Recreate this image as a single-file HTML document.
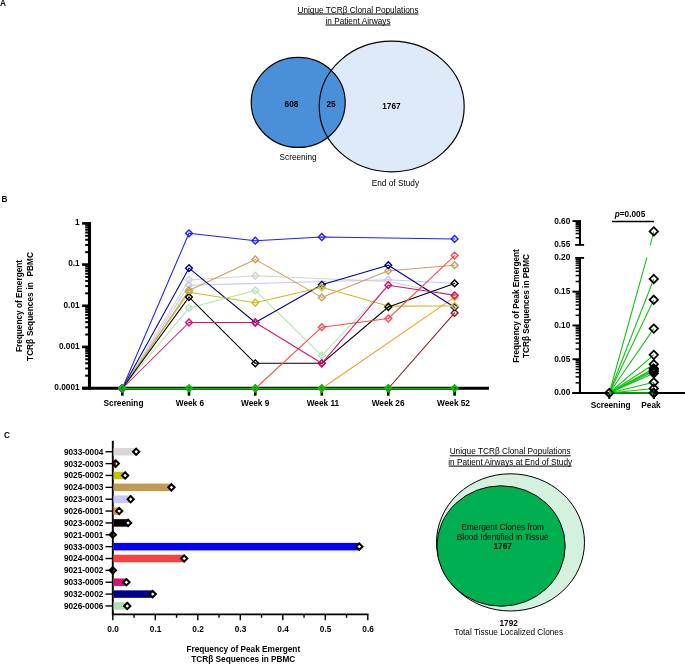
<!DOCTYPE html><html><head><meta charset="utf-8"><title>Figure</title><style>html,body{margin:0;padding:0;background:#fff}svg{display:block}</style></head><body><svg width="685" height="664" viewBox="0 0 685 664" font-family="'Liberation Sans', Arial, sans-serif" fill="#000">
<rect width="685" height="664" fill="#fff"/>
<text x="0.00" y="5.90" text-anchor="start" font-size="8.25" font-weight="bold" >A</text>
<text x="1.40" y="202.20" text-anchor="start" font-size="8.25" font-weight="bold" >B</text>
<text x="4.00" y="438.00" text-anchor="start" font-size="8.25" font-weight="bold" >C</text>
<text x="358.00" y="12.50" text-anchor="middle" font-size="8.25" >Unique TCRβ Clonal Populations</text>
<line x1="297.50" x2="418.50" y1="14.00" y2="14.00" stroke="#000" stroke-width="1.0"/>
<text x="358.00" y="23.50" text-anchor="middle" font-size="8.25" >in Patient Airways</text>
<line x1="325.50" x2="390.50" y1="25.00" y2="25.00" stroke="#000" stroke-width="1.0"/>
<ellipse cx="391.7" cy="106.5" rx="72.5" ry="65.3" fill="#dfeaf8"/>
<ellipse cx="298.2" cy="102.4" rx="47" ry="45" fill="#4a90d9"/>
<ellipse cx="391.7" cy="106.5" rx="72.5" ry="65.3" fill="none" stroke="#000" stroke-width="1.2"/>
<ellipse cx="298.2" cy="102.4" rx="47" ry="45" fill="none" stroke="#000" stroke-width="1.2"/>
<text x="291.50" y="106.80" text-anchor="middle" font-size="8.25" font-weight="bold" >608</text>
<text x="331.00" y="106.80" text-anchor="middle" font-size="8.25" font-weight="bold" >25</text>
<text x="391.40" y="108.80" text-anchor="middle" font-size="8.25" font-weight="bold" >1767</text>
<text x="298.10" y="159.50" text-anchor="middle" font-size="8.25" >Screening</text>
<text x="395.40" y="186.00" text-anchor="middle" font-size="8.25" >End of Study</text>
<line x1="89.5" x2="89.5" y1="222.1" y2="389.6" stroke="#000" stroke-width="3.1"/>
<line x1="82.1" x2="489" y1="388.3" y2="388.3" stroke="#000" stroke-width="3.0"/>
<line x1="82.1" x2="89.5" y1="388.10" y2="388.10" stroke="#000" stroke-width="2.6"/>
<line x1="85.2" x2="89.5" y1="375.70" y2="375.70" stroke="#000" stroke-width="2.0"/>
<line x1="85.2" x2="89.5" y1="368.45" y2="368.45" stroke="#000" stroke-width="2.0"/>
<line x1="85.2" x2="89.5" y1="363.31" y2="363.31" stroke="#000" stroke-width="2.0"/>
<line x1="85.2" x2="89.5" y1="359.32" y2="359.32" stroke="#000" stroke-width="2.0"/>
<line x1="85.2" x2="89.5" y1="356.06" y2="356.06" stroke="#000" stroke-width="2.0"/>
<line x1="85.2" x2="89.5" y1="353.30" y2="353.30" stroke="#000" stroke-width="2.0"/>
<line x1="85.2" x2="89.5" y1="350.91" y2="350.91" stroke="#000" stroke-width="2.0"/>
<line x1="85.2" x2="89.5" y1="348.80" y2="348.80" stroke="#000" stroke-width="2.0"/>
<line x1="82.1" x2="89.5" y1="346.92" y2="346.92" stroke="#000" stroke-width="2.6"/>
<line x1="85.2" x2="89.5" y1="334.52" y2="334.52" stroke="#000" stroke-width="2.0"/>
<line x1="85.2" x2="89.5" y1="327.27" y2="327.27" stroke="#000" stroke-width="2.0"/>
<line x1="85.2" x2="89.5" y1="322.13" y2="322.13" stroke="#000" stroke-width="2.0"/>
<line x1="85.2" x2="89.5" y1="318.14" y2="318.14" stroke="#000" stroke-width="2.0"/>
<line x1="85.2" x2="89.5" y1="314.88" y2="314.88" stroke="#000" stroke-width="2.0"/>
<line x1="85.2" x2="89.5" y1="312.12" y2="312.12" stroke="#000" stroke-width="2.0"/>
<line x1="85.2" x2="89.5" y1="309.73" y2="309.73" stroke="#000" stroke-width="2.0"/>
<line x1="85.2" x2="89.5" y1="307.62" y2="307.62" stroke="#000" stroke-width="2.0"/>
<line x1="82.1" x2="89.5" y1="305.74" y2="305.74" stroke="#000" stroke-width="2.6"/>
<line x1="85.2" x2="89.5" y1="293.34" y2="293.34" stroke="#000" stroke-width="2.0"/>
<line x1="85.2" x2="89.5" y1="286.09" y2="286.09" stroke="#000" stroke-width="2.0"/>
<line x1="85.2" x2="89.5" y1="280.95" y2="280.95" stroke="#000" stroke-width="2.0"/>
<line x1="85.2" x2="89.5" y1="276.96" y2="276.96" stroke="#000" stroke-width="2.0"/>
<line x1="85.2" x2="89.5" y1="273.70" y2="273.70" stroke="#000" stroke-width="2.0"/>
<line x1="85.2" x2="89.5" y1="270.94" y2="270.94" stroke="#000" stroke-width="2.0"/>
<line x1="85.2" x2="89.5" y1="268.55" y2="268.55" stroke="#000" stroke-width="2.0"/>
<line x1="85.2" x2="89.5" y1="266.44" y2="266.44" stroke="#000" stroke-width="2.0"/>
<line x1="82.1" x2="89.5" y1="264.56" y2="264.56" stroke="#000" stroke-width="2.6"/>
<line x1="85.2" x2="89.5" y1="252.16" y2="252.16" stroke="#000" stroke-width="2.0"/>
<line x1="85.2" x2="89.5" y1="244.91" y2="244.91" stroke="#000" stroke-width="2.0"/>
<line x1="85.2" x2="89.5" y1="239.77" y2="239.77" stroke="#000" stroke-width="2.0"/>
<line x1="85.2" x2="89.5" y1="235.78" y2="235.78" stroke="#000" stroke-width="2.0"/>
<line x1="85.2" x2="89.5" y1="232.52" y2="232.52" stroke="#000" stroke-width="2.0"/>
<line x1="85.2" x2="89.5" y1="229.76" y2="229.76" stroke="#000" stroke-width="2.0"/>
<line x1="85.2" x2="89.5" y1="227.37" y2="227.37" stroke="#000" stroke-width="2.0"/>
<line x1="85.2" x2="89.5" y1="225.26" y2="225.26" stroke="#000" stroke-width="2.0"/>
<line x1="82.1" x2="89.5" y1="223.38" y2="223.38" stroke="#000" stroke-width="2.6"/>
<text x="79.60" y="390.00" text-anchor="end" font-size="8.25" font-weight="bold" >0.0001</text>
<text x="79.60" y="348.82" text-anchor="end" font-size="8.25" font-weight="bold" >0.001</text>
<text x="79.60" y="307.64" text-anchor="end" font-size="8.25" font-weight="bold" >0.01</text>
<text x="79.60" y="266.46" text-anchor="end" font-size="8.25" font-weight="bold" >0.1</text>
<text x="79.60" y="225.28" text-anchor="end" font-size="8.25" font-weight="bold" >1</text>
<line x1="122.3" x2="122.3" y1="388.1" y2="395.70000000000005" stroke="#000" stroke-width="2.6"/>
<text x="123.50" y="405.80" text-anchor="middle" font-size="8.25" font-weight="bold" >Screening</text>
<line x1="189.0" x2="189.0" y1="388.1" y2="395.70000000000005" stroke="#000" stroke-width="2.6"/>
<text x="189.90" y="405.80" text-anchor="middle" font-size="8.25" font-weight="bold" >Week 6</text>
<line x1="255.3" x2="255.3" y1="388.1" y2="395.70000000000005" stroke="#000" stroke-width="2.6"/>
<text x="255.20" y="405.80" text-anchor="middle" font-size="8.25" font-weight="bold" >Week 9</text>
<line x1="321.8" x2="321.8" y1="388.1" y2="395.70000000000005" stroke="#000" stroke-width="2.6"/>
<text x="322.90" y="405.80" text-anchor="middle" font-size="8.25" font-weight="bold" >Week 11</text>
<line x1="388.3" x2="388.3" y1="388.1" y2="395.70000000000005" stroke="#000" stroke-width="2.6"/>
<text x="388.10" y="405.80" text-anchor="middle" font-size="8.25" font-weight="bold" >Week 26</text>
<line x1="454.6" x2="454.6" y1="388.1" y2="395.70000000000005" stroke="#000" stroke-width="2.6"/>
<text x="453.50" y="405.80" text-anchor="middle" font-size="8.25" font-weight="bold" >Week 52</text>
<text transform="translate(22,306.0) rotate(-90)" text-anchor="middle" font-size="8.25" font-weight="bold">Frequency of Emergent</text>
<text transform="translate(33.3,306.5) rotate(-90)" word-spacing="0.6" text-anchor="middle" font-size="8.25" font-weight="bold" xml:space="preserve">TCRβ Sequences in  PBMC</text>
<path d="M122.30 388.50 L189.00 307.90 L255.30 290.40 L321.80 355.60 L388.30 285.00" fill="none" stroke="#b4e3b4" stroke-width="1.05" stroke-linejoin="round"/>
<path d="M122.30 385.10L125.70 388.50L122.30 391.90L118.90 388.50Z" fill="none" stroke="#b4e3b4" stroke-width="1.4"/>
<circle cx="122.30" cy="388.50" r="0.7" fill="#b4e3b4" opacity="0.75"/>
<path d="M189.00 304.50L192.40 307.90L189.00 311.30L185.60 307.90Z" fill="none" stroke="#b4e3b4" stroke-width="1.4"/>
<circle cx="189.00" cy="307.90" r="0.7" fill="#b4e3b4" opacity="0.75"/>
<path d="M255.30 287.00L258.70 290.40L255.30 293.80L251.90 290.40Z" fill="none" stroke="#b4e3b4" stroke-width="1.4"/>
<circle cx="255.30" cy="290.40" r="0.7" fill="#b4e3b4" opacity="0.75"/>
<path d="M321.80 352.20L325.20 355.60L321.80 359.00L318.40 355.60Z" fill="none" stroke="#b4e3b4" stroke-width="1.4"/>
<circle cx="321.80" cy="355.60" r="0.7" fill="#b4e3b4" opacity="0.75"/>
<path d="M122.30 388.50 L189.00 279.90 L255.30 275.70 L388.30 281.50 L454.60 295.30" fill="none" stroke="#d2d2d2" stroke-width="1.05" stroke-linejoin="round"/>
<path d="M122.30 385.10L125.70 388.50L122.30 391.90L118.90 388.50Z" fill="none" stroke="#d2d2d2" stroke-width="1.4"/>
<circle cx="122.30" cy="388.50" r="0.7" fill="#d2d2d2" opacity="0.75"/>
<path d="M189.00 276.50L192.40 279.90L189.00 283.30L185.60 279.90Z" fill="none" stroke="#d2d2d2" stroke-width="1.4"/>
<circle cx="189.00" cy="279.90" r="0.7" fill="#d2d2d2" opacity="0.75"/>
<path d="M255.30 272.30L258.70 275.70L255.30 279.10L251.90 275.70Z" fill="none" stroke="#d2d2d2" stroke-width="1.4"/>
<circle cx="255.30" cy="275.70" r="0.7" fill="#d2d2d2" opacity="0.75"/>
<path d="M454.60 291.90L458.00 295.30L454.60 298.70L451.20 295.30Z" fill="none" stroke="#d2d2d2" stroke-width="1.4"/>
<circle cx="454.60" cy="295.30" r="0.7" fill="#d2d2d2" opacity="0.75"/>
<path d="M122.30 388.50 L189.00 285.20 L388.30 279.80 L454.60 283.20" fill="none" stroke="#c6c6fb" stroke-width="1.05" stroke-linejoin="round"/>
<path d="M122.30 385.10L125.70 388.50L122.30 391.90L118.90 388.50Z" fill="none" stroke="#c6c6fb" stroke-width="1.4"/>
<circle cx="122.30" cy="388.50" r="0.7" fill="#c6c6fb" opacity="0.75"/>
<path d="M189.00 281.80L192.40 285.20L189.00 288.60L185.60 285.20Z" fill="none" stroke="#c6c6fb" stroke-width="1.4"/>
<circle cx="189.00" cy="285.20" r="0.7" fill="#c6c6fb" opacity="0.75"/>
<path d="M388.30 276.40L391.70 279.80L388.30 283.20L384.90 279.80Z" fill="none" stroke="#c6c6fb" stroke-width="1.4"/>
<circle cx="388.30" cy="279.80" r="0.7" fill="#c6c6fb" opacity="0.75"/>
<path d="M454.60 279.80L458.00 283.20L454.60 286.60L451.20 283.20Z" fill="none" stroke="#c6c6fb" stroke-width="1.4"/>
<circle cx="454.60" cy="283.20" r="0.7" fill="#c6c6fb" opacity="0.75"/>
<path d="M122.30 388.50 L321.80 388.50 L454.60 297.10" fill="none" stroke="#ff9a1f" stroke-width="1.05" stroke-linejoin="round"/>
<path d="M122.30 385.10L125.70 388.50L122.30 391.90L118.90 388.50Z" fill="none" stroke="#ff9a1f" stroke-width="1.4"/>
<circle cx="122.30" cy="388.50" r="0.7" fill="#ff9a1f" opacity="0.75"/>
<path d="M321.80 385.10L325.20 388.50L321.80 391.90L318.40 388.50Z" fill="none" stroke="#ff9a1f" stroke-width="1.4"/>
<circle cx="321.80" cy="388.50" r="0.7" fill="#ff9a1f" opacity="0.75"/>
<path d="M454.60 293.70L458.00 297.10L454.60 300.50L451.20 297.10Z" fill="none" stroke="#ff9a1f" stroke-width="1.4"/>
<circle cx="454.60" cy="297.10" r="0.7" fill="#ff9a1f" opacity="0.75"/>
<path d="M122.30 388.50 L388.30 388.50 L454.60 312.90" fill="none" stroke="#8b1a1a" stroke-width="1.05" stroke-linejoin="round"/>
<path d="M122.30 385.10L125.70 388.50L122.30 391.90L118.90 388.50Z" fill="none" stroke="#8b1a1a" stroke-width="1.4"/>
<circle cx="122.30" cy="388.50" r="0.7" fill="#8b1a1a" opacity="0.75"/>
<path d="M388.30 385.10L391.70 388.50L388.30 391.90L384.90 388.50Z" fill="none" stroke="#8b1a1a" stroke-width="1.4"/>
<circle cx="388.30" cy="388.50" r="0.7" fill="#8b1a1a" opacity="0.75"/>
<path d="M454.60 309.50L458.00 312.90L454.60 316.30L451.20 312.90Z" fill="none" stroke="#8b1a1a" stroke-width="1.4"/>
<circle cx="454.60" cy="312.90" r="0.7" fill="#8b1a1a" opacity="0.75"/>
<path d="M122.30 388.50 L189.00 290.40 L255.30 259.40 L321.80 297.40 L388.30 270.80 L454.60 265.20" fill="none" stroke="#c9a05c" stroke-width="1.05" stroke-linejoin="round"/>
<path d="M122.30 385.10L125.70 388.50L122.30 391.90L118.90 388.50Z" fill="none" stroke="#c9a05c" stroke-width="1.4"/>
<circle cx="122.30" cy="388.50" r="0.7" fill="#c9a05c" opacity="0.75"/>
<path d="M189.00 287.00L192.40 290.40L189.00 293.80L185.60 290.40Z" fill="none" stroke="#c9a05c" stroke-width="1.4"/>
<circle cx="189.00" cy="290.40" r="0.7" fill="#c9a05c" opacity="0.75"/>
<path d="M255.30 256.00L258.70 259.40L255.30 262.80L251.90 259.40Z" fill="none" stroke="#c9a05c" stroke-width="1.4"/>
<circle cx="255.30" cy="259.40" r="0.7" fill="#c9a05c" opacity="0.75"/>
<path d="M321.80 294.00L325.20 297.40L321.80 300.80L318.40 297.40Z" fill="none" stroke="#c9a05c" stroke-width="1.4"/>
<circle cx="321.80" cy="297.40" r="0.7" fill="#c9a05c" opacity="0.75"/>
<path d="M388.30 267.40L391.70 270.80L388.30 274.20L384.90 270.80Z" fill="none" stroke="#c9a05c" stroke-width="1.4"/>
<circle cx="388.30" cy="270.80" r="0.7" fill="#c9a05c" opacity="0.75"/>
<path d="M454.60 261.80L458.00 265.20L454.60 268.60L451.20 265.20Z" fill="none" stroke="#c9a05c" stroke-width="1.4"/>
<circle cx="454.60" cy="265.20" r="0.7" fill="#c9a05c" opacity="0.75"/>
<path d="M122.30 388.50 L189.00 268.20 L255.30 322.50 L321.80 284.70 L388.30 265.20 L454.60 307.20" fill="none" stroke="#00008b" stroke-width="1.05" stroke-linejoin="round"/>
<path d="M122.30 385.10L125.70 388.50L122.30 391.90L118.90 388.50Z" fill="none" stroke="#00008b" stroke-width="1.4"/>
<circle cx="122.30" cy="388.50" r="0.7" fill="#00008b" opacity="0.75"/>
<path d="M189.00 264.80L192.40 268.20L189.00 271.60L185.60 268.20Z" fill="none" stroke="#00008b" stroke-width="1.4"/>
<circle cx="189.00" cy="268.20" r="0.7" fill="#00008b" opacity="0.75"/>
<path d="M255.30 319.10L258.70 322.50L255.30 325.90L251.90 322.50Z" fill="none" stroke="#00008b" stroke-width="1.4"/>
<circle cx="255.30" cy="322.50" r="0.7" fill="#00008b" opacity="0.75"/>
<path d="M321.80 281.30L325.20 284.70L321.80 288.10L318.40 284.70Z" fill="none" stroke="#00008b" stroke-width="1.4"/>
<circle cx="321.80" cy="284.70" r="0.7" fill="#00008b" opacity="0.75"/>
<path d="M388.30 261.80L391.70 265.20L388.30 268.60L384.90 265.20Z" fill="none" stroke="#00008b" stroke-width="1.4"/>
<circle cx="388.30" cy="265.20" r="0.7" fill="#00008b" opacity="0.75"/>
<path d="M454.60 303.80L458.00 307.20L454.60 310.60L451.20 307.20Z" fill="none" stroke="#00008b" stroke-width="1.4"/>
<circle cx="454.60" cy="307.20" r="0.7" fill="#00008b" opacity="0.75"/>
<path d="M122.30 388.50 L189.00 292.20 L255.30 302.70 L321.80 287.30 L388.30 306.10 L454.60 305.95" fill="none" stroke="#c8be1e" stroke-width="1.05" stroke-linejoin="round"/>
<path d="M122.30 385.10L125.70 388.50L122.30 391.90L118.90 388.50Z" fill="none" stroke="#c8be1e" stroke-width="1.4"/>
<circle cx="122.30" cy="388.50" r="0.7" fill="#c8be1e" opacity="0.75"/>
<path d="M189.00 288.80L192.40 292.20L189.00 295.60L185.60 292.20Z" fill="none" stroke="#c8be1e" stroke-width="1.4"/>
<circle cx="189.00" cy="292.20" r="0.7" fill="#c8be1e" opacity="0.75"/>
<path d="M255.30 299.30L258.70 302.70L255.30 306.10L251.90 302.70Z" fill="none" stroke="#c8be1e" stroke-width="1.4"/>
<circle cx="255.30" cy="302.70" r="0.7" fill="#c8be1e" opacity="0.75"/>
<path d="M321.80 283.90L325.20 287.30L321.80 290.70L318.40 287.30Z" fill="none" stroke="#c8be1e" stroke-width="1.4"/>
<circle cx="321.80" cy="287.30" r="0.7" fill="#c8be1e" opacity="0.75"/>
<path d="M388.30 302.70L391.70 306.10L388.30 309.50L384.90 306.10Z" fill="none" stroke="#c8be1e" stroke-width="1.4"/>
<circle cx="388.30" cy="306.10" r="0.7" fill="#c8be1e" opacity="0.75"/>
<path d="M454.60 302.55L458.00 305.95L454.60 309.35L451.20 305.95Z" fill="none" stroke="#c8be1e" stroke-width="1.4"/>
<circle cx="454.60" cy="305.95" r="0.7" fill="#c8be1e" opacity="0.75"/>
<path d="M122.30 388.50 L189.00 297.10 L255.30 363.30 L321.80 363.30 L388.30 307.00 L454.60 283.40" fill="none" stroke="#000000" stroke-width="1.05" stroke-linejoin="round"/>
<path d="M122.30 385.10L125.70 388.50L122.30 391.90L118.90 388.50Z" fill="none" stroke="#000000" stroke-width="1.4"/>
<circle cx="122.30" cy="388.50" r="0.7" fill="#000000" opacity="0.75"/>
<path d="M189.00 293.70L192.40 297.10L189.00 300.50L185.60 297.10Z" fill="none" stroke="#000000" stroke-width="1.4"/>
<circle cx="189.00" cy="297.10" r="0.7" fill="#000000" opacity="0.75"/>
<path d="M255.30 359.90L258.70 363.30L255.30 366.70L251.90 363.30Z" fill="none" stroke="#000000" stroke-width="1.4"/>
<circle cx="255.30" cy="363.30" r="0.7" fill="#000000" opacity="0.75"/>
<path d="M321.80 359.90L325.20 363.30L321.80 366.70L318.40 363.30Z" fill="none" stroke="#000000" stroke-width="1.4"/>
<circle cx="321.80" cy="363.30" r="0.7" fill="#000000" opacity="0.75"/>
<path d="M388.30 303.60L391.70 307.00L388.30 310.40L384.90 307.00Z" fill="none" stroke="#000000" stroke-width="1.4"/>
<circle cx="388.30" cy="307.00" r="0.7" fill="#000000" opacity="0.75"/>
<path d="M454.60 280.00L458.00 283.40L454.60 286.80L451.20 283.40Z" fill="none" stroke="#000000" stroke-width="1.4"/>
<circle cx="454.60" cy="283.40" r="0.7" fill="#000000" opacity="0.75"/>
<path d="M122.30 388.50 L255.30 388.50 L321.80 327.20 L388.30 318.50 L454.60 255.60" fill="none" stroke="#ff4b4b" stroke-width="1.05" stroke-linejoin="round"/>
<path d="M122.30 385.10L125.70 388.50L122.30 391.90L118.90 388.50Z" fill="none" stroke="#ff4b4b" stroke-width="1.4"/>
<circle cx="122.30" cy="388.50" r="0.7" fill="#ff4b4b" opacity="0.75"/>
<path d="M255.30 385.10L258.70 388.50L255.30 391.90L251.90 388.50Z" fill="none" stroke="#ff4b4b" stroke-width="1.4"/>
<circle cx="255.30" cy="388.50" r="0.7" fill="#ff4b4b" opacity="0.75"/>
<path d="M321.80 323.80L325.20 327.20L321.80 330.60L318.40 327.20Z" fill="none" stroke="#ff4b4b" stroke-width="1.4"/>
<circle cx="321.80" cy="327.20" r="0.7" fill="#ff4b4b" opacity="0.75"/>
<path d="M388.30 315.10L391.70 318.50L388.30 321.90L384.90 318.50Z" fill="none" stroke="#ff4b4b" stroke-width="1.4"/>
<circle cx="388.30" cy="318.50" r="0.7" fill="#ff4b4b" opacity="0.75"/>
<path d="M454.60 252.20L458.00 255.60L454.60 259.00L451.20 255.60Z" fill="none" stroke="#ff4b4b" stroke-width="1.4"/>
<circle cx="454.60" cy="255.60" r="0.7" fill="#ff4b4b" opacity="0.75"/>
<path d="M122.30 388.50 L189.00 322.50 L255.30 322.50 L321.80 363.30 L388.30 285.20 L454.60 295.30" fill="none" stroke="#d4146f" stroke-width="1.05" stroke-linejoin="round"/>
<path d="M122.30 385.10L125.70 388.50L122.30 391.90L118.90 388.50Z" fill="none" stroke="#d4146f" stroke-width="1.4"/>
<circle cx="122.30" cy="388.50" r="0.7" fill="#d4146f" opacity="0.75"/>
<path d="M189.00 319.10L192.40 322.50L189.00 325.90L185.60 322.50Z" fill="none" stroke="#d4146f" stroke-width="1.4"/>
<circle cx="189.00" cy="322.50" r="0.7" fill="#d4146f" opacity="0.75"/>
<path d="M255.30 319.10L258.70 322.50L255.30 325.90L251.90 322.50Z" fill="none" stroke="#d4146f" stroke-width="1.4"/>
<circle cx="255.30" cy="322.50" r="0.7" fill="#d4146f" opacity="0.75"/>
<path d="M321.80 359.90L325.20 363.30L321.80 366.70L318.40 363.30Z" fill="none" stroke="#d4146f" stroke-width="1.4"/>
<circle cx="321.80" cy="363.30" r="0.7" fill="#d4146f" opacity="0.75"/>
<path d="M388.30 281.80L391.70 285.20L388.30 288.60L384.90 285.20Z" fill="none" stroke="#d4146f" stroke-width="1.4"/>
<circle cx="388.30" cy="285.20" r="0.7" fill="#d4146f" opacity="0.75"/>
<path d="M454.60 291.90L458.00 295.30L454.60 298.70L451.20 295.30Z" fill="none" stroke="#d4146f" stroke-width="1.4"/>
<circle cx="454.60" cy="295.30" r="0.7" fill="#d4146f" opacity="0.75"/>
<path d="M122.30 388.50 L189.00 233.30 L255.30 240.70 L321.80 237.00 L388.30 238.00 L454.60 238.90" fill="none" stroke="#1f1fff" stroke-width="1.05" stroke-linejoin="round"/>
<path d="M122.30 385.10L125.70 388.50L122.30 391.90L118.90 388.50Z" fill="none" stroke="#1f1fff" stroke-width="1.4"/>
<circle cx="122.30" cy="388.50" r="0.7" fill="#1f1fff" opacity="0.75"/>
<path d="M189.00 229.90L192.40 233.30L189.00 236.70L185.60 233.30Z" fill="none" stroke="#1f1fff" stroke-width="1.4"/>
<circle cx="189.00" cy="233.30" r="0.7" fill="#1f1fff" opacity="0.75"/>
<path d="M255.30 237.30L258.70 240.70L255.30 244.10L251.90 240.70Z" fill="none" stroke="#1f1fff" stroke-width="1.4"/>
<circle cx="255.30" cy="240.70" r="0.7" fill="#1f1fff" opacity="0.75"/>
<path d="M321.80 233.60L325.20 237.00L321.80 240.40L318.40 237.00Z" fill="none" stroke="#1f1fff" stroke-width="1.4"/>
<circle cx="321.80" cy="237.00" r="0.7" fill="#1f1fff" opacity="0.75"/>
<path d="M454.60 235.50L458.00 238.90L454.60 242.30L451.20 238.90Z" fill="none" stroke="#1f1fff" stroke-width="1.4"/>
<circle cx="454.60" cy="238.90" r="0.7" fill="#1f1fff" opacity="0.75"/>
<path d="M122.30 388.50 L189.00 388.50 L255.30 388.50 L321.80 388.50 L388.30 388.50 L454.60 388.50" fill="none" stroke="#00c000" stroke-width="1.3" stroke-linejoin="round"/>
<path d="M122.30 385.20L125.40 388.30L122.30 391.40L119.20 388.30Z" fill="none" stroke="#00c000" stroke-width="1.9"/>
<circle cx="122.30" cy="388.50" r="0.7" fill="#00c000" opacity="0.75"/>
<path d="M189.00 385.20L192.10 388.30L189.00 391.40L185.90 388.30Z" fill="none" stroke="#00c000" stroke-width="1.9"/>
<circle cx="189.00" cy="388.50" r="0.7" fill="#00c000" opacity="0.75"/>
<path d="M255.30 385.20L258.40 388.30L255.30 391.40L252.20 388.30Z" fill="none" stroke="#00c000" stroke-width="1.9"/>
<circle cx="255.30" cy="388.50" r="0.7" fill="#00c000" opacity="0.75"/>
<path d="M321.80 385.20L324.90 388.30L321.80 391.40L318.70 388.30Z" fill="none" stroke="#00c000" stroke-width="1.9"/>
<circle cx="321.80" cy="388.50" r="0.7" fill="#00c000" opacity="0.75"/>
<path d="M388.30 385.20L391.40 388.30L388.30 391.40L385.20 388.30Z" fill="none" stroke="#00c000" stroke-width="1.9"/>
<circle cx="388.30" cy="388.50" r="0.7" fill="#00c000" opacity="0.75"/>
<path d="M454.60 385.20L457.70 388.30L454.60 391.40L451.50 388.30Z" fill="none" stroke="#00c000" stroke-width="1.9"/>
<circle cx="454.60" cy="388.50" r="0.7" fill="#00c000" opacity="0.75"/>
<path d="M189.00 287.00L192.40 290.40L189.00 293.80L185.60 290.40Z" fill="none" stroke="#c9a05c" stroke-width="1.4"/>
<line x1="579.95" x2="579.95" y1="220.1" y2="245.3" stroke="#000" stroke-width="2.1"/>
<line x1="579.95" x2="579.95" y1="257.4" y2="394.0" stroke="#000" stroke-width="2.1"/>
<line x1="572.4" x2="685" y1="393.0" y2="393.0" stroke="#000" stroke-width="2.1"/>
<line x1="575.1" x2="584.1" y1="244.9" y2="244.9" stroke="#000" stroke-width="1.8"/>
<line x1="575.1" x2="584.1" y1="257.9" y2="257.9" stroke="#000" stroke-width="1.8"/>
<line x1="572.4" x2="579.95" y1="393.00" y2="393.00" stroke="#000" stroke-width="1.9"/>
<text x="570.30" y="395.40" text-anchor="end" font-size="8.25" font-weight="bold" >0.00</text>
<line x1="575.6" x2="579.95" y1="382.83" y2="382.83" stroke="#000" stroke-width="1.5"/>
<line x1="575.6" x2="579.95" y1="376.88" y2="376.88" stroke="#000" stroke-width="1.5"/>
<line x1="575.6" x2="579.95" y1="372.66" y2="372.66" stroke="#000" stroke-width="1.5"/>
<line x1="575.6" x2="579.95" y1="369.39" y2="369.39" stroke="#000" stroke-width="1.5"/>
<line x1="575.6" x2="579.95" y1="366.71" y2="366.71" stroke="#000" stroke-width="1.5"/>
<line x1="575.6" x2="579.95" y1="364.45" y2="364.45" stroke="#000" stroke-width="1.5"/>
<line x1="575.6" x2="579.95" y1="362.49" y2="362.49" stroke="#000" stroke-width="1.5"/>
<line x1="575.6" x2="579.95" y1="360.77" y2="360.77" stroke="#000" stroke-width="1.5"/>
<line x1="572.4" x2="579.95" y1="359.22" y2="359.22" stroke="#000" stroke-width="1.9"/>
<text x="570.30" y="361.62" text-anchor="end" font-size="8.25" font-weight="bold" >0.05</text>
<line x1="575.6" x2="579.95" y1="349.05" y2="349.05" stroke="#000" stroke-width="1.5"/>
<line x1="575.6" x2="579.95" y1="343.10" y2="343.10" stroke="#000" stroke-width="1.5"/>
<line x1="575.6" x2="579.95" y1="338.88" y2="338.88" stroke="#000" stroke-width="1.5"/>
<line x1="575.6" x2="579.95" y1="335.61" y2="335.61" stroke="#000" stroke-width="1.5"/>
<line x1="575.6" x2="579.95" y1="332.93" y2="332.93" stroke="#000" stroke-width="1.5"/>
<line x1="575.6" x2="579.95" y1="330.67" y2="330.67" stroke="#000" stroke-width="1.5"/>
<line x1="575.6" x2="579.95" y1="328.71" y2="328.71" stroke="#000" stroke-width="1.5"/>
<line x1="575.6" x2="579.95" y1="326.99" y2="326.99" stroke="#000" stroke-width="1.5"/>
<line x1="572.4" x2="579.95" y1="325.44" y2="325.44" stroke="#000" stroke-width="1.9"/>
<text x="570.30" y="327.84" text-anchor="end" font-size="8.25" font-weight="bold" >0.10</text>
<line x1="575.6" x2="579.95" y1="315.27" y2="315.27" stroke="#000" stroke-width="1.5"/>
<line x1="575.6" x2="579.95" y1="309.32" y2="309.32" stroke="#000" stroke-width="1.5"/>
<line x1="575.6" x2="579.95" y1="305.10" y2="305.10" stroke="#000" stroke-width="1.5"/>
<line x1="575.6" x2="579.95" y1="301.83" y2="301.83" stroke="#000" stroke-width="1.5"/>
<line x1="575.6" x2="579.95" y1="299.15" y2="299.15" stroke="#000" stroke-width="1.5"/>
<line x1="575.6" x2="579.95" y1="296.89" y2="296.89" stroke="#000" stroke-width="1.5"/>
<line x1="575.6" x2="579.95" y1="294.93" y2="294.93" stroke="#000" stroke-width="1.5"/>
<line x1="575.6" x2="579.95" y1="293.21" y2="293.21" stroke="#000" stroke-width="1.5"/>
<line x1="572.4" x2="579.95" y1="291.66" y2="291.66" stroke="#000" stroke-width="1.9"/>
<text x="570.30" y="294.06" text-anchor="end" font-size="8.25" font-weight="bold" >0.15</text>
<line x1="575.6" x2="579.95" y1="281.49" y2="281.49" stroke="#000" stroke-width="1.5"/>
<line x1="575.6" x2="579.95" y1="275.54" y2="275.54" stroke="#000" stroke-width="1.5"/>
<line x1="575.6" x2="579.95" y1="271.32" y2="271.32" stroke="#000" stroke-width="1.5"/>
<line x1="575.6" x2="579.95" y1="268.05" y2="268.05" stroke="#000" stroke-width="1.5"/>
<line x1="575.6" x2="579.95" y1="265.37" y2="265.37" stroke="#000" stroke-width="1.5"/>
<line x1="575.6" x2="579.95" y1="263.11" y2="263.11" stroke="#000" stroke-width="1.5"/>
<line x1="575.6" x2="579.95" y1="261.15" y2="261.15" stroke="#000" stroke-width="1.5"/>
<line x1="575.6" x2="579.95" y1="259.43" y2="259.43" stroke="#000" stroke-width="1.5"/>
<text x="570.30" y="260.28" text-anchor="end" font-size="8.25" font-weight="bold" >0.20</text>
<text x="570.30" y="247.30" text-anchor="end" font-size="8.25" font-weight="bold" >0.55</text>
<line x1="572.4" x2="579.95" y1="221.10" y2="221.10" stroke="#000" stroke-width="1.9"/>
<text x="570.30" y="223.50" text-anchor="end" font-size="8.25" font-weight="bold" >0.60</text>
<line x1="575.6" x2="579.95" y1="237.74" y2="237.74" stroke="#000" stroke-width="1.5"/>
<line x1="575.6" x2="579.95" y1="233.54" y2="233.54" stroke="#000" stroke-width="1.5"/>
<line x1="575.6" x2="579.95" y1="230.57" y2="230.57" stroke="#000" stroke-width="1.5"/>
<line x1="575.6" x2="579.95" y1="228.26" y2="228.26" stroke="#000" stroke-width="1.5"/>
<line x1="575.6" x2="579.95" y1="226.38" y2="226.38" stroke="#000" stroke-width="1.5"/>
<line x1="575.6" x2="579.95" y1="224.79" y2="224.79" stroke="#000" stroke-width="1.5"/>
<line x1="575.6" x2="579.95" y1="223.41" y2="223.41" stroke="#000" stroke-width="1.5"/>
<line x1="575.6" x2="579.95" y1="222.19" y2="222.19" stroke="#000" stroke-width="1.5"/>
<line x1="609.3" x2="609.3" y1="393.0" y2="399.0" stroke="#000" stroke-width="1.9"/>
<text x="610.60" y="407.80" text-anchor="middle" font-size="8.25" font-weight="bold" >Screening</text>
<line x1="653.8" x2="653.8" y1="393.0" y2="399.0" stroke="#000" stroke-width="1.9"/>
<text x="651.00" y="408.40" text-anchor="middle" font-size="8.25" font-weight="bold" >Peak</text>
<line x1="609.3" y1="393.0" x2="646.9" y2="257.4" stroke="#10c010" stroke-width="1.05"/>
<line x1="650.2" y1="245.3" x2="653.8" y2="231.4" stroke="#10c010" stroke-width="1.05"/>
<line x1="609.3" y1="393.0" x2="653.8" y2="278.96" stroke="#10c010" stroke-width="1.05"/>
<line x1="609.3" y1="393.0" x2="653.8" y2="299.77" stroke="#10c010" stroke-width="1.05"/>
<line x1="609.3" y1="393.0" x2="653.8" y2="328.62" stroke="#10c010" stroke-width="1.05"/>
<line x1="609.3" y1="393.0" x2="653.8" y2="354.83" stroke="#10c010" stroke-width="1.05"/>
<line x1="609.3" y1="393.0" x2="653.8" y2="364.22" stroke="#10c010" stroke-width="1.05"/>
<line x1="609.3" y1="393.0" x2="653.8" y2="368.54" stroke="#10c010" stroke-width="1.05"/>
<line x1="609.3" y1="393.0" x2="653.8" y2="370.03" stroke="#10c010" stroke-width="1.05"/>
<line x1="609.3" y1="393.0" x2="653.8" y2="371.38" stroke="#10c010" stroke-width="1.05"/>
<line x1="609.3" y1="393.0" x2="653.8" y2="373.20" stroke="#10c010" stroke-width="1.05"/>
<line x1="609.3" y1="393.0" x2="653.8" y2="382.33" stroke="#10c010" stroke-width="1.05"/>
<line x1="609.3" y1="393.0" x2="653.8" y2="388.41" stroke="#10c010" stroke-width="1.05"/>
<line x1="609.3" y1="393.0" x2="653.8" y2="393.00" stroke="#10c010" stroke-width="1.05"/>
<line x1="609.3" y1="393.0" x2="653.8" y2="393.00" stroke="#10c010" stroke-width="1.05"/>
<path d="M653.80 227.20L658.00 231.40L653.80 235.60L649.60 231.40Z" fill="none" stroke="#000" stroke-width="1.75"/>
<path d="M653.80 274.76L658.00 278.96L653.80 283.16L649.60 278.96Z" fill="none" stroke="#000" stroke-width="1.75"/>
<path d="M653.80 295.57L658.00 299.77L653.80 303.97L649.60 299.77Z" fill="none" stroke="#000" stroke-width="1.75"/>
<path d="M653.80 324.42L658.00 328.62L653.80 332.82L649.60 328.62Z" fill="none" stroke="#000" stroke-width="1.75"/>
<path d="M653.80 350.63L658.00 354.83L653.80 359.03L649.60 354.83Z" fill="none" stroke="#000" stroke-width="1.75"/>
<path d="M653.80 360.02L658.00 364.22L653.80 368.42L649.60 364.22Z" fill="none" stroke="#000" stroke-width="1.75"/>
<path d="M653.80 364.34L658.00 368.54L653.80 372.74L649.60 368.54Z" fill="none" stroke="#000" stroke-width="1.75"/>
<path d="M653.80 365.83L658.00 370.03L653.80 374.23L649.60 370.03Z" fill="none" stroke="#000" stroke-width="1.75"/>
<path d="M653.80 367.18L658.00 371.38L653.80 375.58L649.60 371.38Z" fill="none" stroke="#000" stroke-width="1.75"/>
<path d="M653.80 369.00L658.00 373.20L653.80 377.40L649.60 373.20Z" fill="none" stroke="#000" stroke-width="1.75"/>
<path d="M653.80 378.13L658.00 382.33L653.80 386.53L649.60 382.33Z" fill="none" stroke="#000" stroke-width="1.75"/>
<path d="M653.80 384.21L658.00 388.41L653.80 392.61L649.60 388.41Z" fill="none" stroke="#000" stroke-width="1.75"/>
<path d="M653.80 388.80L658.00 393.00L653.80 397.20L649.60 393.00Z" fill="none" stroke="#000" stroke-width="1.75"/>
<path d="M653.80 388.80L658.00 393.00L653.80 397.20L649.60 393.00Z" fill="none" stroke="#000" stroke-width="1.75"/>
<path d="M609.30 388.80L613.50 393.00L609.30 397.20L605.10 393.00Z" fill="none" stroke="#000" stroke-width="1.75"/>
<text x="630" y="216.9" text-anchor="middle" font-size="8.25" font-weight="bold"><tspan font-style="italic">p</tspan>=0.005</text>
<line x1="612" x2="654" y1="221.6" y2="221.6" stroke="#000" stroke-width="1.5"/>
<text transform="translate(518.5,306) rotate(-90)" text-anchor="middle" font-size="8.25" font-weight="bold">Frequency of Peak Emergent</text>
<text transform="translate(529.1,306) rotate(-90)" text-anchor="middle" font-size="8.25" font-weight="bold">TCRβ Sequences in PBMC</text>
<line x1="112.8" x2="112.8" y1="440.8" y2="615" stroke="#000" stroke-width="1.9"/>
<line x1="112.05" x2="368.5" y1="614.3" y2="614.3" stroke="#000" stroke-width="1.7"/>
<rect x="113.5" y="448.00" width="22.68" height="7.5" fill="#d8d8d8"/>
<line x1="105.5" x2="112.8" y1="451.75" y2="451.75" stroke="#000" stroke-width="1.4"/>
<text x="103.40" y="454.65" text-anchor="end" font-size="8.25" font-weight="bold" >9033-0004</text>
<rect x="113.5" y="459.86" width="2.28" height="7.5" fill="#c00000"/>
<line x1="105.5" x2="112.8" y1="463.61" y2="463.61" stroke="#000" stroke-width="1.4"/>
<text x="103.40" y="466.51" text-anchor="end" font-size="8.25" font-weight="bold" >9032-0003</text>
<rect x="113.5" y="471.72" width="11.63" height="7.5" fill="#c4c200"/>
<line x1="105.5" x2="112.8" y1="475.47" y2="475.47" stroke="#000" stroke-width="1.4"/>
<text x="103.40" y="478.37" text-anchor="end" font-size="8.25" font-weight="bold" >9025-0002</text>
<rect x="113.5" y="483.59" width="57.95" height="7.5" fill="#c49a52"/>
<line x1="105.5" x2="112.8" y1="487.34" y2="487.34" stroke="#000" stroke-width="1.4"/>
<text x="103.40" y="490.24" text-anchor="end" font-size="8.25" font-weight="bold" >9024-0003</text>
<rect x="113.5" y="495.45" width="17.15" height="7.5" fill="#c8c8fa"/>
<line x1="105.5" x2="112.8" y1="499.20" y2="499.20" stroke="#000" stroke-width="1.4"/>
<text x="103.40" y="502.10" text-anchor="end" font-size="8.25" font-weight="bold" >9023-0001</text>
<rect x="113.5" y="507.31" width="5.67" height="7.5" fill="#ff8c1a"/>
<line x1="105.5" x2="112.8" y1="511.06" y2="511.06" stroke="#000" stroke-width="1.4"/>
<text x="103.40" y="513.96" text-anchor="end" font-size="8.25" font-weight="bold" >9026-0001</text>
<rect x="113.5" y="519.17" width="14.60" height="7.5" fill="#000000"/>
<line x1="105.5" x2="112.8" y1="522.92" y2="522.92" stroke="#000" stroke-width="1.4"/>
<text x="103.40" y="525.82" text-anchor="end" font-size="8.25" font-weight="bold" >9023-0002</text>
<line x1="105.5" x2="112.8" y1="534.78" y2="534.78" stroke="#000" stroke-width="1.4"/>
<text x="103.40" y="537.68" text-anchor="end" font-size="8.25" font-weight="bold" >9021-0001</text>
<rect x="113.5" y="542.90" width="245.80" height="7.5" fill="#0000ff"/>
<line x1="105.5" x2="112.8" y1="546.65" y2="546.65" stroke="#000" stroke-width="1.4"/>
<text x="103.40" y="549.55" text-anchor="end" font-size="8.25" font-weight="bold" >9033-0003</text>
<rect x="113.5" y="554.76" width="70.70" height="7.5" fill="#f84040"/>
<line x1="105.5" x2="112.8" y1="558.51" y2="558.51" stroke="#000" stroke-width="1.4"/>
<text x="103.40" y="561.41" text-anchor="end" font-size="8.25" font-weight="bold" >9024-0004</text>
<line x1="105.5" x2="112.8" y1="570.37" y2="570.37" stroke="#000" stroke-width="1.4"/>
<text x="103.40" y="573.27" text-anchor="end" font-size="8.25" font-weight="bold" >9021-0002</text>
<rect x="113.5" y="578.48" width="12.90" height="7.5" fill="#d4146f"/>
<line x1="105.5" x2="112.8" y1="582.23" y2="582.23" stroke="#000" stroke-width="1.4"/>
<text x="103.40" y="585.13" text-anchor="end" font-size="8.25" font-weight="bold" >9033-0005</text>
<rect x="113.5" y="590.34" width="39.25" height="7.5" fill="#00008b"/>
<line x1="105.5" x2="112.8" y1="594.09" y2="594.09" stroke="#000" stroke-width="1.4"/>
<text x="103.40" y="596.99" text-anchor="end" font-size="8.25" font-weight="bold" >9032-0002</text>
<rect x="113.5" y="602.21" width="13.75" height="7.5" fill="#b0e0b0"/>
<line x1="105.5" x2="112.8" y1="605.96" y2="605.96" stroke="#000" stroke-width="1.4"/>
<text x="103.40" y="608.86" text-anchor="end" font-size="8.25" font-weight="bold" >9026-0006</text>
<path d="M136.18 448.60L139.33 451.75L136.18 454.90L133.03 451.75Z" fill="#fff" stroke="#000" stroke-width="2.0"/>
<path d="M115.77 460.46L118.92 463.61L115.77 466.76L112.62 463.61Z" fill="none" stroke="#000" stroke-width="2.0"/>
<path d="M125.12 472.32L128.28 475.47L125.12 478.62L121.97 475.47Z" fill="#fff" stroke="#000" stroke-width="2.0"/>
<path d="M171.45 484.19L174.60 487.34L171.45 490.49L168.30 487.34Z" fill="#fff" stroke="#000" stroke-width="2.0"/>
<path d="M130.65 496.05L133.80 499.20L130.65 502.35L127.50 499.20Z" fill="#fff" stroke="#000" stroke-width="2.0"/>
<path d="M119.17 507.91L122.33 511.06L119.17 514.21L116.02 511.06Z" fill="#fff" stroke="#000" stroke-width="2.0"/>
<path d="M128.10 519.77L131.25 522.92L128.10 526.07L124.95 522.92Z" fill="#fff" stroke="#000" stroke-width="2.0"/>
<path d="M112.80 531.63L115.95 534.78L112.80 537.93L109.65 534.78Z" fill="none" stroke="#000" stroke-width="2.0"/>
<path d="M359.30 543.50L362.45 546.65L359.30 549.80L356.15 546.65Z" fill="#fff" stroke="#000" stroke-width="2.0"/>
<path d="M184.20 555.36L187.35 558.51L184.20 561.66L181.05 558.51Z" fill="#fff" stroke="#000" stroke-width="2.0"/>
<path d="M112.80 567.22L115.95 570.37L112.80 573.52L109.65 570.37Z" fill="none" stroke="#000" stroke-width="2.0"/>
<path d="M126.40 579.08L129.55 582.23L126.40 585.38L123.25 582.23Z" fill="#fff" stroke="#000" stroke-width="2.0"/>
<path d="M152.75 590.94L155.90 594.09L152.75 597.24L149.60 594.09Z" fill="#fff" stroke="#000" stroke-width="2.0"/>
<path d="M127.25 602.81L130.40 605.96L127.25 609.11L124.10 605.96Z" fill="#fff" stroke="#000" stroke-width="2.0"/>
<line x1="112.80" x2="112.80" y1="614.3" y2="620.3" stroke="#000" stroke-width="1.4"/>
<text x="113.10" y="632.40" text-anchor="middle" font-size="8.25" font-weight="bold" >0.0</text>
<line x1="134.05" x2="134.05" y1="614.3" y2="617.8" stroke="#000" stroke-width="1.4"/>
<line x1="155.30" x2="155.30" y1="614.3" y2="620.3" stroke="#000" stroke-width="1.4"/>
<text x="155.60" y="632.40" text-anchor="middle" font-size="8.25" font-weight="bold" >0.1</text>
<line x1="176.55" x2="176.55" y1="614.3" y2="617.8" stroke="#000" stroke-width="1.4"/>
<line x1="197.80" x2="197.80" y1="614.3" y2="620.3" stroke="#000" stroke-width="1.4"/>
<text x="198.10" y="632.40" text-anchor="middle" font-size="8.25" font-weight="bold" >0.2</text>
<line x1="219.05" x2="219.05" y1="614.3" y2="617.8" stroke="#000" stroke-width="1.4"/>
<line x1="240.30" x2="240.30" y1="614.3" y2="620.3" stroke="#000" stroke-width="1.4"/>
<text x="240.60" y="632.40" text-anchor="middle" font-size="8.25" font-weight="bold" >0.3</text>
<line x1="261.55" x2="261.55" y1="614.3" y2="617.8" stroke="#000" stroke-width="1.4"/>
<line x1="282.80" x2="282.80" y1="614.3" y2="620.3" stroke="#000" stroke-width="1.4"/>
<text x="283.10" y="632.40" text-anchor="middle" font-size="8.25" font-weight="bold" >0.4</text>
<line x1="304.05" x2="304.05" y1="614.3" y2="617.8" stroke="#000" stroke-width="1.4"/>
<line x1="325.30" x2="325.30" y1="614.3" y2="620.3" stroke="#000" stroke-width="1.4"/>
<text x="325.60" y="632.40" text-anchor="middle" font-size="8.25" font-weight="bold" >0.5</text>
<line x1="346.55" x2="346.55" y1="614.3" y2="617.8" stroke="#000" stroke-width="1.4"/>
<line x1="367.80" x2="367.80" y1="614.3" y2="620.3" stroke="#000" stroke-width="1.4"/>
<text x="368.10" y="632.40" text-anchor="middle" font-size="8.25" font-weight="bold" >0.6</text>
<text x="243.30" y="652.00" text-anchor="middle" font-size="8.25" font-weight="bold" >Frequency of Peak Emergent</text>
<text x="243.30" y="662.10" text-anchor="middle" font-size="8.25" font-weight="bold" >TCRβ Sequences in PBMC</text>
<text x="510.20" y="454.30" text-anchor="middle" font-size="8.25" >Unique TCRβ Clonal Populations</text>
<line x1="449.70" x2="570.70" y1="455.80" y2="455.80" stroke="#000" stroke-width="1.0"/>
<text x="510.20" y="464.60" text-anchor="middle" font-size="8.25" >in Patient Airways at End of Study</text>
<line x1="448.70" x2="571.70" y1="466.10" y2="466.10" stroke="#000" stroke-width="1.0"/>
<ellipse cx="510.5" cy="542.4" rx="74" ry="68.6" fill="#d3f1de" stroke="#000" stroke-width="1"/>
<ellipse cx="501.1" cy="546.0" rx="64.1" ry="60.2" fill="#00b050" stroke="#000" stroke-width="1"/>
<text x="502.70" y="529.60" text-anchor="middle" font-size="8.25" >Emergent Clones from</text>
<text x="502.70" y="539.80" text-anchor="middle" font-size="8.25" >Blood Identified in Tissue</text>
<text x="502.70" y="549.20" text-anchor="middle" font-size="8.25" font-weight="bold" >1767</text>
<text x="508.70" y="626.20" text-anchor="middle" font-size="8.25" font-weight="bold" >1792</text>
<text x="508.70" y="634.70" text-anchor="middle" font-size="8.25" >Total Tissue Localized Clones</text>
</svg></body></html>
